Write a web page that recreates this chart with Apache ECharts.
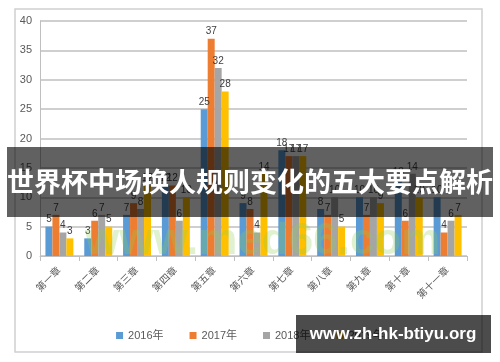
<!DOCTYPE html>
<html>
<head>
<meta charset="utf-8">
<script src="https://cdn.jsdelivr.net/npm/echarts@6/dist/echarts.min.js"></script>
<style>html,body{margin:0;padding:0;background:#fff}#c{width:500px;height:362px}</style>
</head>
<body>
<div id="c"></div>
<script>
var categories = ['第一章','第二章','第三章','第四章','第五章','第六章','第七章','第八章','第九章','第十章','第十一章'];
var seriesNames = ['2016年','2017年','2018年','2019年'];
var s2016 = [5, 3, 7, 12, 25, 9, 18, 8, 10, 13, 10];
var s2017 = [7, 6, 9, 12, 37, 8, 17, 7, 7, 6, 4];
var s2018 = [4, 7, 8, 6, 32, 4, 17, 10, 10, 14, 6];
var s2019 = [3, 5, 12, 10, 28, 14, 17, 5, 9, 10, 7];
var yTicks = [0, 5, 10, 15, 20, 25, 30, 35, 40];
var colors = ['#5B9BD5', '#ED7D31', '#A5A5A5', '#FFC000'];
var titleText = '世界杯中场换人规则变化的五大要点解析';
var siteText = 'www.zh-hk-btiyu.org';
var bgMark = 'www.med66.com';

var chart = echarts.init(document.getElementById('c'));
var data = [s2016, s2017, s2018, s2019];
var font = '"Liberation Sans", "Noto Sans CJK SC", sans-serif';
var series = data.map(function (d, i) {
  return {
    name: seriesNames[i], type: 'bar', data: d,
    barGap: '0%', barCategoryGap: '28%',
    itemStyle: { color: colors[i] },
    label: { show: true, position: 'top', distance: 2, fontSize: 10, color: '#404040', fontFamily: font }
  };
});
chart.setOption({
  animation: false,
  textStyle: { fontFamily: font },
  grid: { left: 40, right: 33, top: 21, bottom: 106 },
  legend: {
    bottom: 16, left: 'center', itemWidth: 7, itemHeight: 7, itemGap: 26,
    icon: 'rect', textStyle: { fontSize: 11, color: '#595959', fontFamily: font },
    data: seriesNames
  },
  xAxis: {
    type: 'category', data: categories,
    axisLine: { lineStyle: { color: '#bfbfbf', width: 1 } },
    axisTick: { show: true, length: 5, lineStyle: { color: '#bfbfbf' } },
    axisLabel: { rotate: 45, fontSize: 10, color: '#595959', margin: 13, interval: 0 }
  },
  yAxis: {
    type: 'value', min: yTicks[0], max: yTicks[yTicks.length - 1], interval: 5,
    axisLine: { show: true, lineStyle: { color: '#bfbfbf' } },
    axisTick: { show: false },
    axisLabel: { fontSize: 11, color: '#595959', margin: 8 },
    splitLine: { lineStyle: { color: '#bfbfbf', width: 1.5 } }
  },
  series: series,
  graphic: [
    { type: 'rect', z: -1, shape: { x: 15, y: 9, width: 467, height: 343 }, style: { fill: 'none', stroke: '#d0d0d0', lineWidth: 1.5 } },
    { type: 'text', z: 50, left: 85, top: 220, style: { text: bgMark, font: 'bold 44px "Liberation Sans", sans-serif', fill: 'rgba(140,205,80,0.28)' } },
    { type: 'rect', z: 100, shape: { x: 7, y: 147, width: 486, height: 70 }, style: { fill: 'rgba(0,0,0,0.62)' } },
    { type: 'text', z: 101, x: 250, y: 182, style: { text: titleText, font: 'bold 27px "Noto Sans CJK SC", sans-serif', fill: '#ffffff', textAlign: 'center', textVerticalAlign: 'middle' } },
    { type: 'rect', z: 100, shape: { x: 296, y: 315, width: 195, height: 38 }, style: { fill: 'rgba(0,0,0,0.7)' } },
    { type: 'text', z: 101, x: 393, y: 334, style: { text: siteText, font: 'bold 17px "Liberation Sans", sans-serif', fill: '#ffffff', textAlign: 'center', textVerticalAlign: 'middle' } }
  ]
});
</script>
</body>
</html>
